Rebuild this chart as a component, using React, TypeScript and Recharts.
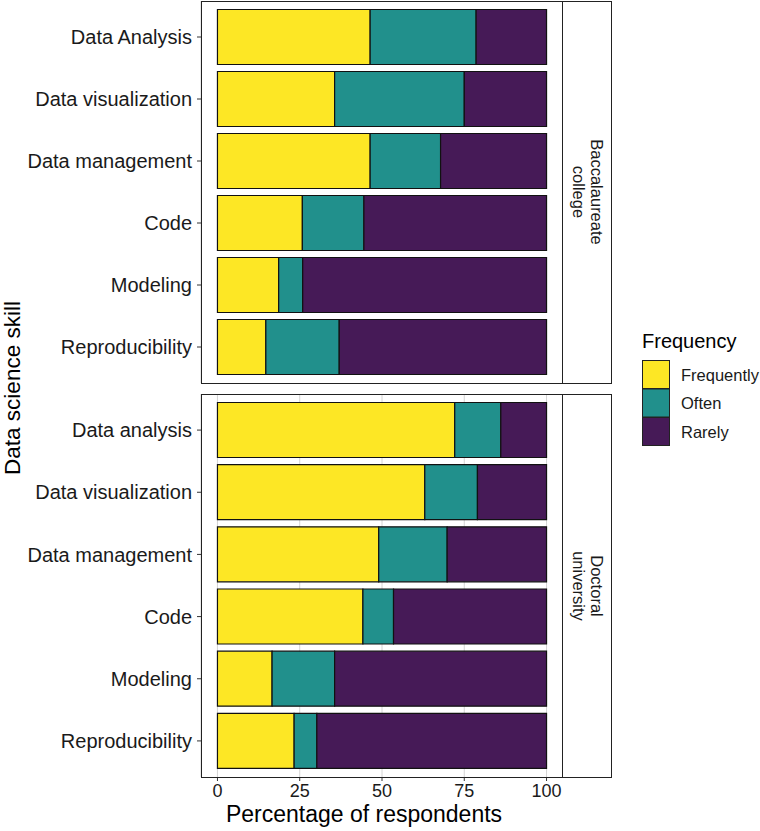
import React from "react";
import { Bar, BarChart, CartesianGrid, XAxis, YAxis } from "recharts";

// skills, top to bottom
const collegeSkills = ["Data Analysis", "Data visualization", "Data management", "Code", "Modeling", "Reproducibility"];
const universitySkills = ["Data analysis", "Data visualization", "Data management", "Code", "Modeling", "Reproducibility"];

// percent of respondents, Baccalaureate college
const collegeFrequently = [46.4, 35.6, 46.4, 25.8, 18.6, 14.7];
const collegeOften = [32.2, 39.4, 21.4, 18.7, 7.3, 22.3];
const collegeRarely = [21.4, 25.0, 32.2, 55.5, 74.1, 63.0];

// percent of respondents, Doctoral university
const universityFrequently = [72.1, 63.0, 49.0, 44.2, 16.6, 23.3];
const universityOften = [14.0, 16.0, 20.8, 9.3, 19.0, 6.9];
const universityRarely = [13.9, 21.0, 30.2, 46.5, 64.4, 69.8];

const frequencies = ["Frequently", "Often", "Rarely"];
const colors = ["#FDE725", "#21908C", "#461a57"];
const xTicks = [0, 25, 50, 75, 100];

const FONT = "'Liberation Sans', Arial, sans-serif";

const collegeData = collegeSkills.map((skill, i) => ({
    skill,
    Frequently: collegeFrequently[i],
    Often: collegeOften[i],
    Rarely: collegeRarely[i],
}));

const universityData = universitySkills.map((skill, i) => ({
    skill,
    Frequently: universityFrequently[i],
    Often: universityOften[i],
    Rarely: universityRarely[i],
}));

function Panel({ data, height, showAxis }: { data: any[]; height: number; showAxis: boolean }) {
    return (
        <BarChart
            width={563}
            height={height}
            data={data}
            layout="vertical"
            barCategoryGap={3.5}
            margin={{ top: 0, right: 0, bottom: 0, left: 0 }}
        >
            <CartesianGrid horizontal={false} stroke="#d4d4d4" strokeWidth={1} />
            <XAxis
                type="number"
                domain={[-5, 105]}
                ticks={xTicks}
                allowDataOverflow
                height={showAxis ? 30 : 0}
                axisLine={false}
                tick={showAxis ? { fill: "#1a1a1a", fontSize: 18, fontFamily: FONT } : false}
                tickLine={showAxis ? { stroke: "#333" } : false}
                tickSize={4}
                tickMargin={3}
            />
            <YAxis
                type="category"
                dataKey="skill"
                width={201}
                padding={{ top: 5, bottom: 5 }}
                axisLine={false}
                tickLine={{ stroke: "#333" }}
                tickSize={4}
                tickMargin={5}
                tick={{ fill: "#1a1a1a", fontSize: 20, fontFamily: FONT }}
            />
            {frequencies.map((f, i) => (
                <Bar
                    key={f}
                    dataKey={f}
                    stackId="a"
                    fill={colors[i]}
                    stroke="#111"
                    strokeWidth={1.2}
                    isAnimationActive={false}
                />
            ))}
        </BarChart>
    );
}

export default function App() {
    const panelBox = (top: number, h: number) => ({
        position: "absolute" as const,
        left: 201,
        top,
        width: 362,
        height: h,
        border: "1px solid #222",
        boxSizing: "border-box" as const,
        pointerEvents: "none" as const,
    });

    return (
        <div style={{ position: "absolute", left: 0, top: 0, width: 760, height: 831, background: "#fff", fontFamily: FONT }}>
            <div style={{ position: "absolute", left: 0, top: 1 }}>
                <Panel data={collegeData} height={382} showAxis={false} />
            </div>
            <div style={{ position: "absolute", left: 0, top: 394 }}>
                <Panel data={universityData} height={413} showAxis={true} />
            </div>
            <div style={panelBox(1, 383)} />
            <div style={panelBox(394, 384)} />

            <svg width={760} height={831} style={{ position: "absolute", left: 0, top: 0, pointerEvents: "none" }}>
                {/* facet strips */}
                <rect x={562.5} y={1.5} width={49} height={382} fill="#fff" stroke="#222" />
                <text transform="translate(588,192) rotate(90)" textAnchor="middle" fontSize={16.5} fontFamily={FONT} fill="#1a1a1a">
                    <tspan x={0} dy={-3}>Baccalaureate</tspan>
                    <tspan x={0} dy={18}>college</tspan>
                </text>
                <rect x={562.5} y={394.5} width={49} height={383} fill="#fff" stroke="#222" />
                <text transform="translate(588,586) rotate(90)" textAnchor="middle" fontSize={16.5} fontFamily={FONT} fill="#1a1a1a">
                    <tspan x={0} dy={-3}>Doctoral</tspan>
                    <tspan x={0} dy={18}>university</tspan>
                </text>

                {/* axis titles */}
                <text transform="translate(20,388) rotate(-90)" textAnchor="middle" fontSize={22.5} fontFamily={FONT} fill="#000">
                    Data science skill
                </text>
                <text x={364} y={822} textAnchor="middle" fontSize={23} fontFamily={FONT} fill="#000">
                    Percentage of respondents
                </text>

                {/* legend */}
                <text x={642} y={348} fontSize={20} fontFamily={FONT} fill="#000">Frequency</text>
                {frequencies.map((f, i) => (
                    <g key={f}>
                        <rect x={642.5} y={360.5 + i * 28.5} width={27} height={28} fill={colors[i]} stroke="#222" />
                        <text x={681} y={380.5 + i * 28.5} fontSize={16.5} fontFamily={FONT} fill="#1a1a1a">{f}</text>
                    </g>
                ))}
            </svg>
        </div>
    );
}
